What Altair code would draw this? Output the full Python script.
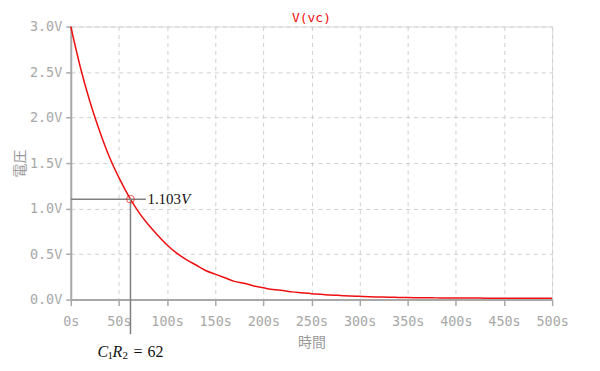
import altair as alt
import pandas as pd

# --- data ---
time_s = [0, 10, 20, 30, 40, 50, 60, 70, 80, 90, 100, 110, 120, 130, 140, 150,
          160, 170, 180, 190, 200, 210, 220, 230, 240, 250, 260, 270, 280, 290,
          300, 310, 320, 330, 340, 350, 360, 370, 380, 390, 400, 410, 420, 430,
          440, 450, 460, 470, 480, 490, 500]
volts = [3.00, 2.55, 2.17, 1.85, 1.57, 1.34, 1.14, 0.97, 0.83, 0.71, 0.60, 0.51,
         0.44, 0.38, 0.32, 0.28, 0.24, 0.20, 0.18, 0.15, 0.13, 0.11, 0.10, 0.085,
         0.075, 0.065, 0.058, 0.050, 0.045, 0.040, 0.036, 0.032, 0.029, 0.026,
         0.024, 0.022, 0.021, 0.020, 0.019, 0.018, 0.018, 0.017, 0.017, 0.016,
         0.016, 0.016, 0.016, 0.015, 0.015, 0.015, 0.015]
x_ticks = [0, 50, 100, 150, 200, 250, 300, 350, 400, 450, 500]
y_ticks = [0.0, 0.5, 1.0, 1.5, 2.0, 2.5, 3.0]

cursor_t = 62
cursor_v = 1.103
hline_end_t = 78
vline_bottom_v = -0.38
label_v = -0.58

GRAY = "#a8a8a8"
RED = "#ee1010"
MONO = "DejaVu Sans Mono"
SERIF = "Liberation Serif"

df = pd.DataFrame({"t": time_s, "v": volts})

xscale = alt.Scale(domain=[0, 500], nice=False, zero=False)
yscale = alt.Scale(domain=[0, 3], nice=False)

common = dict(grid=True, gridDash=[4, 4], gridColor="#cfcfcf", gridWidth=1,
              domainColor=GRAY, domainWidth=2, tickColor=GRAY, tickWidth=1.5,
              labelFont=MONO, labelFontSize=13.5, labelColor=GRAY,
              labelFlush=False, labelOverlap=False,
              titleFont="Noto Sans CJK JP", titleFontSize=14,
              titleColor="#999999", titleFontWeight="normal")

xaxis = alt.Axis(values=x_ticks, labelExpr="datum.value + 's'", title="時間",
                 tickSize=6, labelPadding=9, titlePadding=8, **common)
yaxis = alt.Axis(values=y_ticks, labelExpr="format(datum.value, '.1f') + 'V'",
                 title="電圧", tickSize=5, labelPadding=4, titlePadding=2,
                 **common)

curve = alt.Chart(df).mark_line(color=RED, strokeWidth=1.5,
                                interpolate="monotone").encode(
    x=alt.X("t:Q", scale=xscale, axis=xaxis),
    y=alt.Y("v:Q", scale=yscale, axis=yaxis),
)

hdf = pd.DataFrame({"t": [0], "t2": [hline_end_t], "v": [cursor_v]})
hline = alt.Chart(hdf).mark_rule(color="#808080", strokeWidth=1.5).encode(
    x="t:Q", x2="t2:Q", y="v:Q")

vdf = pd.DataFrame({"t": [cursor_t], "v": [vline_bottom_v], "v2": [cursor_v]})
vline = alt.Chart(vdf).mark_rule(color="#808080", strokeWidth=1.5).encode(
    x="t:Q", y="v:Q", y2="v2:Q")

pdf = pd.DataFrame({"t": [cursor_t], "v": [cursor_v]})
marker = alt.Chart(pdf).mark_point(shape="circle", filled=False, color=RED,
                                   size=60, strokeWidth=1).encode(x="t:Q", y="v:Q")

val_num = alt.Chart(pdf).mark_text(text="1.103", font=SERIF, fontSize=15,
                                   align="left", baseline="middle", dx=17,
                                   color="#111111").encode(x="t:Q", y="v:Q")
val_unit = alt.Chart(pdf).mark_text(text="V", font=SERIF, fontSize=15,
                                    fontStyle="italic", align="left",
                                    baseline="middle", dx=51,
                                    color="#111111").encode(x="t:Q", y="v:Q")

ldf = pd.DataFrame({"t": [cursor_t], "v": [label_v]})
def piece(txt, dx, size, italic=False, dy=0):
    kw = dict(text=txt, font=SERIF, fontSize=size, align="left",
              baseline="middle", dx=dx, dy=dy, color="#111111")
    if italic:
        kw["fontStyle"] = "italic"
    return alt.Chart(ldf).mark_text(**kw).encode(x="t:Q", y="v:Q")

label = (piece("C", -33, 16, True) + piece("1", -23, 11, False, 4) +
         piece("R", -18, 16, True) + piece("2", -8, 11, False, 4) +
         piece("=", 3, 16) + piece("62", 17, 16))

chart = alt.layer(curve, hline, vline, marker, val_num, val_unit, label).properties(
    width=483, height=274,
    autosize=alt.AutoSizeParams(type="none"),
    padding={"left": 63, "top": 18, "right": 40, "bottom": 60},
    title=alt.TitleParams("V(vc)", color=RED, font=MONO, fontSize=13,
                          fontWeight="normal", offset=4, dy=9, anchor="middle"),
).configure_view(stroke=GRAY, strokeWidth=2).configure(background="white")

chart.save("out.html", embed_options={"renderer": "svg", "actions": False})
